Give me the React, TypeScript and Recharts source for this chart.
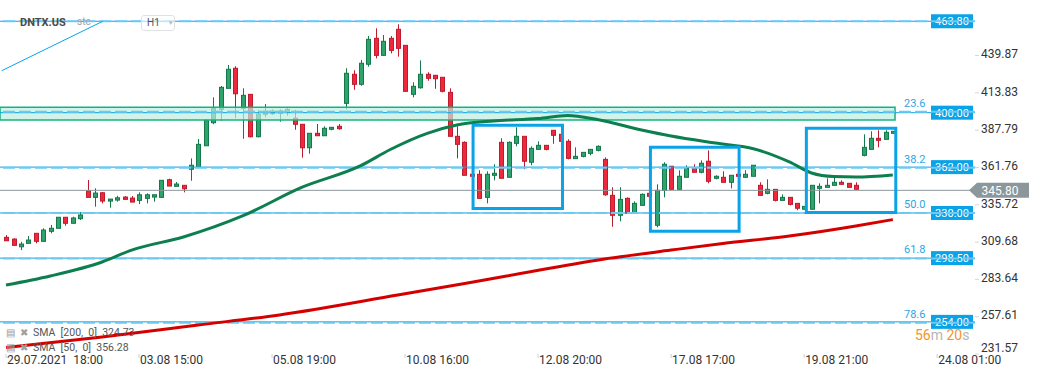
import { ComposedChart, Bar, Line, XAxis, YAxis, ReferenceLine, ReferenceArea } from "recharts"

// hourly candles, [open, high, low, close]
const ohlc: [number, number, number, number][] = [
  [313.0, 314.6, 310.6, 310.6], [311.8, 312.3, 307.4, 307.4], [306.4, 309.9, 304.1, 308.3], [308.8, 313.9, 308.8, 311.1],
  [315.8, 315.8, 308.8, 310.2], [310.2, 319.3, 310.2, 318.1], [317.2, 321.6, 315.8, 319.3], [319.3, 327.0, 319.3, 327.0],
  [327.0, 327.0, 321.1, 322.8], [322.8, 327.4, 322.8, 326.5], [326.0, 330.7, 325.1, 328.6], [345.5, 353.0, 340.9, 340.9],
  [340.9, 347.2, 334.4, 343.9], [344.1, 344.6, 336.7, 338.3], [338.3, 339.7, 333.7, 339.7], [339.0, 342.0, 337.9, 340.6],
  [341.1, 341.8, 339.5, 339.5], [340.4, 341.8, 337.6, 337.6], [338.8, 344.4, 336.2, 342.7], [340.2, 343.7, 336.7, 342.7],
  [341.1, 342.7, 337.9, 342.7], [340.9, 352.8, 340.9, 352.8], [353.2, 353.9, 348.8, 348.8], [348.6, 351.6, 348.6, 350.2],
  [349.3, 349.3, 344.4, 346.9], [360.5, 368.1, 352.5, 363.3], [362.3, 381.6, 362.3, 377.9], [376.9, 394.9, 376.9, 394.9],
  [393.0, 410.7, 391.9, 403.0], [402.3, 418.6, 394.4, 417.7], [417.0, 433.3, 417.0, 430.3], [431.0, 432.4, 396.1, 413.2],
  [403.0, 417.0, 381.8, 412.1], [412.8, 412.8, 382.8, 383.2], [383.2, 401.9, 382.8, 398.9], [398.9, 406.0, 396.8, 401.0],
  [399.3, 402.3, 398.4, 401.2], [399.6, 402.3, 393.7, 401.2], [400.3, 403.3, 397.9, 402.3], [396.1, 401.9, 388.1, 391.9],
  [391.9, 391.9, 368.6, 375.5], [375.5, 385.6, 371.4, 385.6], [385.6, 392.1, 383.9, 383.9], [383.9, 390.5, 383.9, 389.1],
  [388.4, 389.8, 387.7, 389.8], [390.5, 392.1, 388.1, 388.8], [406.5, 431.0, 402.3, 427.5], [426.8, 429.6, 416.0, 419.8],
  [419.8, 436.8, 418.8, 434.5], [433.8, 453.5, 432.1, 451.2], [451.9, 458.9, 437.9, 440.0], [440.0, 454.2, 440.0, 449.8],
  [451.9, 453.5, 441.4, 443.5], [458.2, 461.7, 439.1, 444.9], [447.0, 447.0, 414.9, 414.9], [412.8, 421.2, 410.7, 418.4],
  [417.4, 436.5, 416.7, 426.8], [426.8, 428.2, 422.3, 424.0], [426.1, 426.1, 416.7, 423.7], [424.7, 424.7, 414.2, 414.9],
  [414.2, 417.0, 383.5, 383.5], [383.5, 390.5, 368.1, 377.9], [379.3, 380.0, 356.3, 356.3], [357.0, 357.0, 355.6, 355.6],
  [357.0, 359.8, 340.2, 340.2], [340.9, 359.1, 336.7, 357.0], [356.3, 364.0, 352.8, 357.7], [379.3, 382.1, 354.2, 354.2],
  [354.9, 380.0, 354.9, 379.3], [378.6, 389.8, 376.5, 383.5], [383.5, 383.5, 360.5, 366.1], [365.4, 376.5, 363.3, 375.1],
  [374.4, 380.0, 374.4, 377.2], [377.2, 377.2, 373.7, 374.4], [387.7, 387.7, 378.3, 384.2], [384.9, 384.9, 380.0, 380.0],
  [380.0, 381.4, 367.4, 368.1], [367.9, 375.8, 367.9, 369.5], [369.5, 372.3, 368.8, 372.3], [371.6, 374.4, 370.2, 374.4],
  [373.7, 377.2, 373.0, 376.5], [367.4, 368.8, 342.0, 342.7], [342.3, 347.9, 320.4, 328.4], [328.4, 347.9, 324.2, 339.5],
  [340.2, 340.9, 329.8, 329.8], [329.8, 338.1, 329.8, 336.7], [335.3, 343.7, 335.3, 343.0], [343.7, 343.7, 341.6, 341.6],
  [321.4, 350.0, 320.0, 345.8], [345.8, 365.4, 340.9, 364.0], [362.6, 362.6, 346.5, 346.5], [346.5, 359.8, 346.5, 355.6],
  [354.9, 363.3, 354.9, 361.2], [361.2, 364.0, 358.4, 358.4], [358.4, 366.7, 357.7, 364.7], [366.1, 373.7, 350.7, 352.1],
  [354.2, 356.3, 353.5, 355.6], [354.9, 359.1, 351.4, 351.4], [351.4, 356.3, 347.2, 356.3], [357.0, 357.0, 355.6, 355.6],
  [354.9, 359.8, 354.9, 357.0], [355.6, 363.3, 355.6, 363.3], [349.3, 351.4, 342.3, 342.3], [343.7, 353.5, 343.0, 346.5],
  [346.5, 346.5, 338.1, 338.8], [338.8, 343.0, 338.8, 340.9], [340.9, 340.9, 335.3, 336.0], [336.7, 336.7, 331.9, 333.3],
  [332.6, 334.6, 332.6, 334.6], [332.6, 349.3, 332.6, 349.3], [347.2, 350.7, 336.7, 348.6], [347.9, 354.2, 347.9, 349.3],
  [349.3, 356.3, 349.3, 351.4], [351.4, 352.8, 350.0, 350.0], [350.7, 350.7, 347.9, 347.9], [349.3, 351.4, 346.5, 346.5],
  [370.2, 384.9, 369.5, 375.8], [374.4, 387.0, 374.4, 382.1], [382.1, 387.7, 375.8, 380.7], [381.4, 387.7, 381.4, 386.3],
  [385.6, 387.0, 385.6, 387.0],
]

// moving averages read at some candle indexes
const sma50Points: [number, number][] = [
  [0, 279.7], [6, 286.0], [13, 295.8], [17, 304.1], [24, 313.2], [32, 327.9], [40, 347.8], [48, 363.0],
  [52, 374.3], [57, 385.6], [61, 391.4], [66, 394.2], [72, 395.9], [76, 398.0], [80, 395.2], [86, 387.9],
  [90, 383.7], [96, 378.8], [101, 375.0], [106, 365.6], [109, 357.9], [112, 355.4], [115, 355.1], [120, 356.5],
]
const sma200Points: [number, number][] = [
  [0, 236.1], [13, 243.4], [26, 251.8], [37, 258.8], [53, 272.7], [67, 285.3], [81, 297.9], [90, 304.1],
  [97, 308.7], [106, 313.9], [115, 320.9], [120, 325.4],
]

const levels = [463.8, 400, 362, 330, 298.5, 254]
const fibLevels = [463.8, 400.6, 361.5, 329.9, 298.3, 253.3]
const fibLabels = ["", "23.6", "38.2", "50.0", "61.8", "78.6"]
const lastPrice = 345.8
const zone = { y1: 394.9, y2: 403.7, x2: 120.3 }
const boxes = [
  { x1: 63.2, x2: 75.3, y1: 333.2, y2: 391.2 },
  { x1: 87.2, x2: 99.2, y1: 317.2, y2: 375.8 },
  { x1: 108.3, x2: 120.4, y1: 330.4, y2: 389.1 },
]
const trendLine = [{ x: -0.58, y: 429.3 }, { x: 13.1, y: 463.8 }]

const xTicks = [0, 18, 36, 54, 72, 90, 108, 126]
const xTickLabels = ["29.07.2021  18:00", "03.08 15:00", "05.08 19:00", "10.08 16:00", "12.08 20:00", "17.08 17:00", "19.08 21:00", "24.08 01:00"]
const yTicks = [231.57, 257.61, 283.64, 309.68, 335.72, 361.76, 387.79, 413.83, 439.87]

const candles = ohlc.map(([o, h, l, c], i) => ({ i, o, h, l, c }))
const sma50 = sma50Points.map(([i, v]) => ({ i, v }))
const sma200 = sma200Points.map(([i, v]) => ({ i, v }))

const BLUE = "#0aa3e8"
const FONT = "Roboto, sans-serif"

function Candle(props: any) {
  const { x, y, width, height, payload } = props
  if (x == null || y == null) return null
  const top = Math.min(y, y + height)
  const hh = Math.abs(height)
  const { o, h, l, c } = payload
  const up = c >= o
  const span = h - l
  const py = (v: number) => (span === 0 ? top : top + ((h - v) / span) * hh)
  const cx = Math.round(x + width / 2) + 0.5
  const bTop = py(Math.max(o, c))
  const bBot = py(Math.min(o, c))
  const fill = up ? "#2ea36c" : "#f0283c"
  const edge = up ? "#13784a" : "#bd1b2e"
  return (
    <g>
      <line x1={cx} x2={cx} y1={top} y2={top + hh} stroke={edge} strokeWidth={1} />
      <rect x={cx - 2} y={bTop} width={4} height={Math.max(bBot - bTop, 1.5)} fill={fill} stroke={edge} strokeWidth={1} />
    </g>
  )
}

function PriceTag(props: any) {
  const vb = props.viewBox || {}
  const right = vb.x + vb.width
  const y = vb.y
  return (
    <g>
      <rect x={right - 44} y={y - 7} width={42} height={14} fill={BLUE} />
      <text x={right - 23} y={y} dy="0.36em" textAnchor="middle" fill="#fff" fontSize={11} fontFamily={FONT}>
        {props.text}
      </text>
    </g>
  )
}

function FibTag(props: any) {
  const vb = props.viewBox || {}
  if (!props.text) return null
  return (
    <text x={vb.x + vb.width - 71} y={vb.y - 9} dy="0.36em" fill="#2ba7e3" fontSize={11} fontFamily={FONT}>
      {props.text}
    </text>
  )
}

function LastTag(props: any) {
  const vb = props.viewBox || {}
  const r = vb.x + vb.width
  const y = vb.y
  return (
    <g>
      <polygon points={`${r - 6},${y} ${r + 2},${y - 7.5} ${r + 54},${y - 7.5} ${r + 54},${y + 7.5} ${r + 2},${y + 7.5}`} fill="#8c979c" />
      <text x={r + 25} y={y} dy="0.36em" textAnchor="middle" fill="#fff" fontSize={12} fontFamily={FONT}>
        {props.text}
      </text>
    </g>
  )
}

function YTick({ x, y, payload }: any) {
  const yy = payload.value === yTicks[0] ? y - 6 : y - 1.5
  return (
    <text x={x} y={yy} dy="0.355em" fontSize={12} fill="#333" fontFamily={FONT}>
      {payload.value.toFixed(2)}
    </text>
  )
}

function XTick({ x, y, payload }: any) {
  const idx = xTicks.indexOf(payload.value)
  return (
    <text x={x + 1} y={y} dy="0.355em" fontSize={12} fill="#333" fontFamily={FONT} style={{ whiteSpace: "pre" }}>
      {xTickLabels[idx]}
    </text>
  )
}

const iconStyle = { color: "#9aa0a4", fontSize: 10, marginRight: 5 }

export default function App() {
  return (
    <div style={{ position: "fixed", left: 0, top: 0, width: 1041, height: 379, background: "#fff", fontFamily: FONT }}>
      <ComposedChart width={1041} height={379} data={candles} margin={{ top: 0, right: 0, bottom: 0, left: 0 }}>
        <XAxis
          dataKey="i"
          type="number"
          domain={[-0.812, 131.12]}
          allowDataOverflow
          ticks={xTicks}
          interval={0}
          height={25}
          axisLine={false}
          tickSize={4}
          tickLine={{ stroke: "#cfcfcf" }}
          tick={<XTick />}
        />
        <YAxis
          orientation="right"
          width={66}
          domain={[231.57, 478.64]}
          allowDataOverflow
          ticks={yTicks}
          interval={0}
          axisLine={false}
          tickSize={4}
          tickMargin={2}
          tickLine={{ stroke: "#d6d6d6" }}
          tick={<YTick />}
        />

        {levels.map((v) => (
          <ReferenceLine key={"l" + v} y={v} stroke={BLUE} strokeWidth={1} label={<PriceTag text={v.toFixed(2)} />} />
        ))}
        {fibLevels.map((v, k) => (
          <ReferenceLine key={"f" + v} y={v} stroke="#6cc9f2" strokeWidth={2} strokeDasharray="12 4" label={<FibTag text={fibLabels[k]} />} />
        ))}
        <ReferenceLine y={lastPrice} stroke="#8c979c" strokeWidth={1} label={<LastTag text={lastPrice.toFixed(2)} />} />
        <ReferenceLine segment={trendLine} stroke={BLUE} strokeWidth={1} />

        <Bar dataKey={(d: any) => [d.l, d.h]} barSize={6} shape={<Candle />} isAnimationActive={false} />

        <ReferenceArea
          x1={-0.812}
          x2={zone.x2}
          y1={zone.y1}
          y2={zone.y2}
          fill="#bfeedd"
          fillOpacity={0.7}
          stroke="#17b27f"
          strokeWidth={1.5}
          zIndex={350}
        />

        <Line data={sma200} dataKey="v" type="monotone" stroke="#d40000" strokeWidth={3} dot={false} activeDot={false} legendType="none" isAnimationActive={false} />
        <Line data={sma50} dataKey="v" type="monotone" stroke="#0d7f4f" strokeWidth={3} dot={false} activeDot={false} legendType="none" isAnimationActive={false} />

        {boxes.map((b, k) => (
          <ReferenceArea key={"b" + k} x1={b.x1} x2={b.x2} y1={b.y1} y2={b.y2} fill="none" stroke={BLUE} strokeWidth={3} zIndex={450} />
        ))}
      </ComposedChart>

      <div style={{ position: "absolute", left: 20, top: 16, fontSize: 11, fontWeight: 700, color: "#4a4a4a" }}>DNTX.US</div>
      <div style={{ position: "absolute", left: 77, top: 16, fontSize: 10, color: "#a0a6aa" }}>stc</div>
      <div
        style={{
          position: "absolute", left: 141, top: 15, width: 34, height: 16, border: "1px solid #e2e2e2", borderRadius: 3,
          fontSize: 10, color: "#555", lineHeight: "14px", paddingLeft: 5, boxSizing: "border-box", whiteSpace: "nowrap",
          background: "rgba(255,255,255,0.6)",
        }}
      >
        H1<span style={{ color: "#b8b8b8", fontSize: 6, marginLeft: 8, verticalAlign: "middle" }}>▼</span>
      </div>

      <div style={{ position: "absolute", left: 6, top: 325, fontSize: 10.5, color: "#555", lineHeight: "15px", whiteSpace: "pre" }}>
        <div><span style={iconStyle}>▤</span><span style={iconStyle}>✖</span>SMA  [200,  0]  324.73</div>
        <div><span style={iconStyle}>▤</span><span style={iconStyle}>✖</span>SMA  [50,  0]  356.28</div>
      </div>

      <div style={{ position: "absolute", left: 915, top: 329, fontSize: 14, lineHeight: "13px", whiteSpace: "pre" }}>
        <span style={{ color: "#f7941d" }}>56</span>
        <span style={{ color: "#b5b5b5" }}>m </span>
        <span style={{ color: "#f7941d" }}>20</span>
        <span style={{ color: "#b5b5b5" }}>s</span>
      </div>
    </div>
  )
}
